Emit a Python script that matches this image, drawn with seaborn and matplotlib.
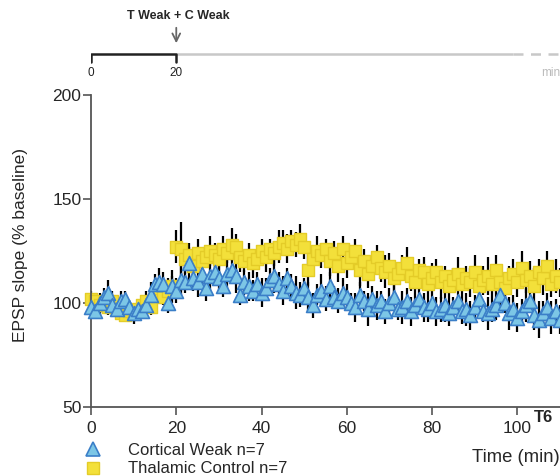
import numpy as np
import pandas as pd
import matplotlib
matplotlib.use("Agg")
import matplotlib.pyplot as plt
import seaborn as sns
from matplotlib.lines import Line2D

# ---------------- data ----------------
time_min = list(range(0, 111))

cortical_weak = [
    98, 96, 100, 103, 105, 99, 97, 101, 102, 98,
    95, 97, 96, 99, 104, 109, 110, 109, 100, 108,
    106, 111, 110, 119, 112, 110, 114, 107, 113, 115,
    112, 108, 114, 116, 113, 104, 110, 108, 106, 109,
    105, 107, 111, 113, 109, 106, 112, 108, 105, 104,
    107, 103, 99, 104, 106, 102, 108, 103, 101, 105,
    103, 100, 98, 104, 101, 97, 102, 99, 101, 96,
    100, 103, 97, 98, 101, 96, 99, 102, 98, 97,
    100, 96, 97, 99, 95, 98, 101, 96, 97, 94,
    98, 102, 96, 95, 97, 99, 104, 100, 95, 97,
    93, 96, 99, 101, 94, 92, 95, 98, 93, 96, 92,
]
cortical_err = [
    4, 3, 5, 4, 6, 3, 4, 5, 4, 3,
    4, 5, 3, 4, 6, 5, 7, 6, 5, 8,
    6, 7, 5, 8, 6, 7, 5, 6, 7, 5,
    6, 5, 7, 6, 8, 5, 6, 7, 5, 6,
    7, 5, 6, 8, 6, 7, 5, 6, 8, 6,
    5, 7, 6, 5, 8, 6, 7, 5, 6, 7,
    6, 5, 7, 6, 5, 8, 6, 7, 5, 6,
    7, 6, 5, 8, 6, 7, 5, 6, 7, 6,
    5, 7, 6, 8, 6, 5, 7, 6, 8, 7,
    6, 7, 5, 8, 6, 7, 6, 5, 8, 7,
    7, 6, 8, 5, 7, 9, 6, 7, 8, 6, 7,
]
thalamic_control = [
    102, 101, 99, 100, 98, 101, 97, 95, 94, 96,
    95, 97, 99, 101, 98, 104, 107, 103, 106, 108,
    127, 126, 121, 123, 118, 124, 120, 122, 125, 123,
    121, 126, 124, 128, 127, 122, 120, 123, 119, 121,
    125, 122, 126, 124, 127, 129, 126, 130, 128, 131,
    127, 116, 121, 125, 123, 126, 120, 124, 118, 126,
    119, 122, 125, 116, 120, 114, 118, 122, 117, 115,
    118, 112, 114, 117, 119, 113, 110, 116, 115, 109,
    112, 115, 110, 113, 108, 111, 114, 109, 112, 110,
    115, 108, 111, 113, 109, 116, 110, 107, 112, 114,
    110, 117, 111, 113, 108, 115, 112, 118, 109, 113, 110,
]
thalamic_err = [
    4, 3, 5, 3, 4, 5, 3, 4, 3, 4,
    5, 4, 3, 5, 4, 6, 5, 4, 6, 5,
    8, 13, 7, 6, 8, 7, 6, 5, 7, 6,
    7, 6, 5, 8, 6, 7, 5, 6, 7, 5,
    6, 7, 5, 6, 8, 6, 7, 5, 6, 7,
    6, 8, 5, 7, 6, 5, 7, 6, 8, 6,
    7, 5, 6, 8, 6, 7, 5, 6, 7, 8,
    6, 7, 5, 6, 8, 7, 6, 5, 7, 6,
    7, 6, 8, 5, 7, 6, 8, 7, 6, 7,
    8, 6, 7, 9, 6, 7, 5, 8, 6, 7,
    7, 8, 6, 7, 9, 6, 8, 7, 6, 8, 7,
]

series_labels = ["Cortical Weak n=7", "Thalamic Control n=7"]
x_ticks = [0, 20, 40, 60, 80, 100]
y_ticks = [50, 100, 150, 200]

# ---------------- style ----------------
sns.set_style("ticks")
plt.rcParams["font.family"] = ["Liberation Sans", "DejaVu Sans"]

BLUE_FACE, BLUE_EDGE = "#7cc6e6", "#3b7fc8"
YEL_FACE, YEL_EDGE = "#f3e03a", "#e4cc28"

fig = plt.figure(figsize=(5.6, 4.76), dpi=100)
ax = fig.add_axes([91 / 560, 1 - 407 / 476, 1 - 91 / 560, (407 - 95) / 476])

df_c = pd.DataFrame({"t": time_min, "v": cortical_weak, "e": cortical_err})
df_t = pd.DataFrame({"t": time_min, "v": thalamic_control, "e": thalamic_err})

# error bars (behind markers)
ax.errorbar(df_t["t"], df_t["v"], yerr=df_t["e"], fmt="none", ecolor="black",
            elinewidth=1.6, capsize=0, zorder=1)
ax.errorbar(df_c["t"], df_c["v"], yerr=df_c["e"], fmt="none", ecolor="black",
            elinewidth=1.6, capsize=0, zorder=1)

sns.scatterplot(data=df_t, x="t", y="v", marker="s", s=72, color=YEL_FACE,
                edgecolor=YEL_EDGE, linewidth=1.0, ax=ax, zorder=2, clip_on=False)
sns.scatterplot(data=df_c, x="t", y="v", marker="^", s=100, color=BLUE_FACE,
                edgecolor=BLUE_EDGE, linewidth=1.2, ax=ax, zorder=3, clip_on=False)

ax.set_xlim(0, 110)
ax.set_ylim(50, 200)
ax.set_xticks(x_ticks)
ax.set_yticks(y_ticks)
ax.tick_params(axis="both", labelsize=12.5, length=6, width=1.2, color="#555555",
               direction="out")
ax.tick_params(axis="x", pad=4)
ax.tick_params(axis="y", pad=1)
for side in ["left", "bottom"]:
    ax.spines[side].set_color("#555555")
    ax.spines[side].set_linewidth(1.3)
sns.despine(ax=ax, top=True, right=True)

ax.set_ylabel("EPSP slope (% baseline)", fontsize=12.5)
ax.yaxis.set_label_coords(-0.134, 0.52)
ax.set_xlabel("Time (min)", fontsize=13.3, loc="right", labelpad=9.5)

fig.text(534 / 560, 1 - 417 / 476, "T6", fontsize=12, fontweight="bold",
         ha="left", va="center")

# legend
handles = [
    Line2D([], [], marker="^", linestyle="none", markersize=10.5,
           markerfacecolor=BLUE_FACE, markeredgecolor=BLUE_EDGE, markeredgewidth=1.2),
    Line2D([], [], marker="s", linestyle="none", markersize=8.5,
           markerfacecolor=YEL_FACE, markeredgecolor=YEL_EDGE, markeredgewidth=1.0),
]
fig.legend(handles, series_labels, loc="upper left",
           bbox_to_anchor=(85 / 560, 1 - 443 / 476), frameon=False,
           fontsize=12, handlelength=1.0, handletextpad=1.6,
           labelspacing=0.2, borderpad=0, borderaxespad=0)

# ---------------- timeline (top) ----------------
axt = fig.add_axes([91 / 560, 1 - 90 / 476, 1 - 91 / 560, 90 / 476])
axt.set_xlim(0, 110)
axt.set_ylim(90, 0)
axt.axis("off")
line_y = 54
axt.plot([20, 99], [line_y, line_y], color="#c8c8c8", lw=1.8, solid_capstyle="butt")
axt.plot([99, 110], [line_y, line_y], color="#c8c8c8", lw=1.8, ls=(0, (4, 3)))
axt.plot([0, 0, 20, 20], [62, line_y, line_y, 62], color="#222222", lw=1.8)
axt.text(0, 73, "0", fontsize=8.5, ha="center", va="center", color="#222222")
axt.text(20, 73, "20", fontsize=8.5, ha="center", va="center", color="#222222")
axt.text(110, 73, "min", fontsize=8.5, ha="right", va="center", color="#bbbbbb")
axt.annotate("", xy=(20, 46), xytext=(20, 25),
             arrowprops=dict(arrowstyle="->", color="#666666", lw=1.3,
                             mutation_scale=14))
axt.text(20.5, 16, "T Weak + C Weak", fontsize=9, fontweight="bold",
         ha="center", va="center")

fig.savefig("out.png", dpi=100)
